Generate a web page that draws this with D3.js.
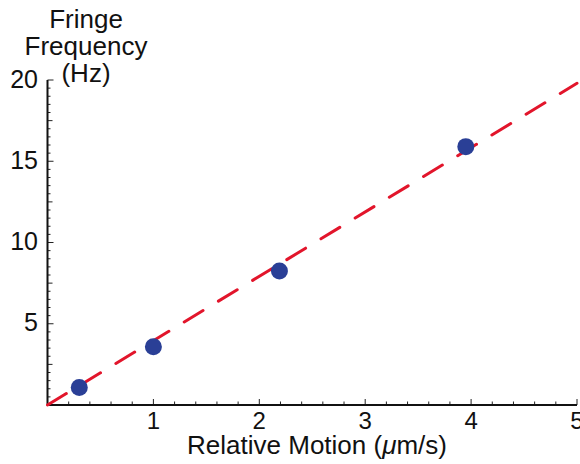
<!DOCTYPE html>
<html>
<head>
	<meta charset="UTF-8">
	<title>Fringe Frequency</title>
	<script src="https://cdn.jsdelivr.net/npm/d3@7"></script>
	<style>
		body {
			padding: 0;
			margin: 0;
			background: #fff;
		}
		text {
			font-family: "Liberation Sans", Arial, sans-serif;
			fill: #111;
		}
	</style>
</head>
<body>
	<script>
		// measured points
		var motion = [0.3, 1.0, 2.19, 3.95];
		var fringe = [1.07, 3.59, 8.25, 15.9];
		// fitted line ends (x, y)
		var fitX = [0, 5];
		var fitY = [0, 19.8];
		var xTicks = [1, 2, 3, 4, 5];
		var yTicks = [5, 10, 15, 20];

		var w = 580,
			h = 464;

		var x = d3.scaleLinear().domain([0, 5]).range([47.5, 577]);
		var y = d3.scaleLinear().domain([0, 20]).range([405, 80]);

		var svg = d3.select("body").append("svg")
			.attr("width", w)
			.attr("height", h);

		// minor ticks
		var g = svg.append("g");
		d3.range(0, 5.001, 0.2).forEach(function (v) {
			var major = Math.abs(v - Math.round(v)) < 1e-6;
			g.append("line")
				.attr("x1", x(v)).attr("x2", x(v))
				.attr("y1", y(0)).attr("y2", y(0) - (major ? 6 : 3.5))
				.attr("stroke", "#222").attr("stroke-width", 1);
		});
		d3.range(0, 20.001, 0.5).forEach(function (v) {
			var len = (v % 5 === 0) ? 6 : (v % 2.5 === 0 ? 5 : 3);
			g.append("line")
				.attr("x1", x(0)).attr("x2", x(0) + len)
				.attr("y1", y(v)).attr("y2", y(v))
				.attr("stroke", "#222").attr("stroke-width", 1);
		});

		// axis lines
		svg.append("line")
			.attr("x1", x(0)).attr("x2", x(5))
			.attr("y1", y(0)).attr("y2", y(0))
			.attr("stroke", "#111").attr("stroke-width", 2);
		svg.append("line")
			.attr("x1", x(0)).attr("x2", x(0))
			.attr("y1", y(0)).attr("y2", y(20))
			.attr("stroke", "#111").attr("stroke-width", 2);

		// tick labels
		svg.selectAll(".xl").data(xTicks).enter().append("text")
			.attr("x", function (d) { return x(d); })
			.attr("y", 429)
			.attr("text-anchor", "middle")
			.style("font-size", "24px")
			.text(function (d) { return d; });
		svg.selectAll(".yl").data(yTicks).enter().append("text")
			.attr("x", 38)
			.attr("y", function (d) { return y(d) + 7.5; })
			.attr("text-anchor", "end")
			.style("font-size", "25px")
			.text(function (d) { return d; });

		// axis titles
		var xt = svg.append("text")
			.attr("x", 317).attr("y", 454)
			.attr("text-anchor", "middle")
			.style("font-size", "26px");
		xt.append("tspan").text("Relative Motion (");
		xt.append("tspan").style("font-style", "italic").text("\u03bc");
		xt.append("tspan").text("m/s)");

		["Fringe", "Frequency", "(Hz)"].forEach(function (s, i) {
			svg.append("text")
				.attr("x", 86).attr("y", 28 + i * 27)
				.attr("text-anchor", "middle")
				.style("font-size", "26px")
				.text(s);
		});

		// fitted line
		var line = d3.line()
			.x(function (d) { return x(d[0]); })
			.y(function (d) { return y(d[1]); });
		svg.append("path")
			.datum(d3.zip(fitX, fitY))
			.attr("d", line)
			.attr("fill", "none")
			.attr("stroke", "#e2152b")
			.attr("stroke-width", 3)
			.attr("stroke-linecap", "round")
			.attr("stroke-dasharray", "22,18");

		// data points
		svg.selectAll(".pt").data(d3.zip(motion, fringe)).enter().append("circle")
			.attr("cx", function (d) { return x(d[0]); })
			.attr("cy", function (d) { return y(d[1]); })
			.attr("r", 8.5)
			.attr("fill", "#2a3f96");
	</script>
</body>
</html>
